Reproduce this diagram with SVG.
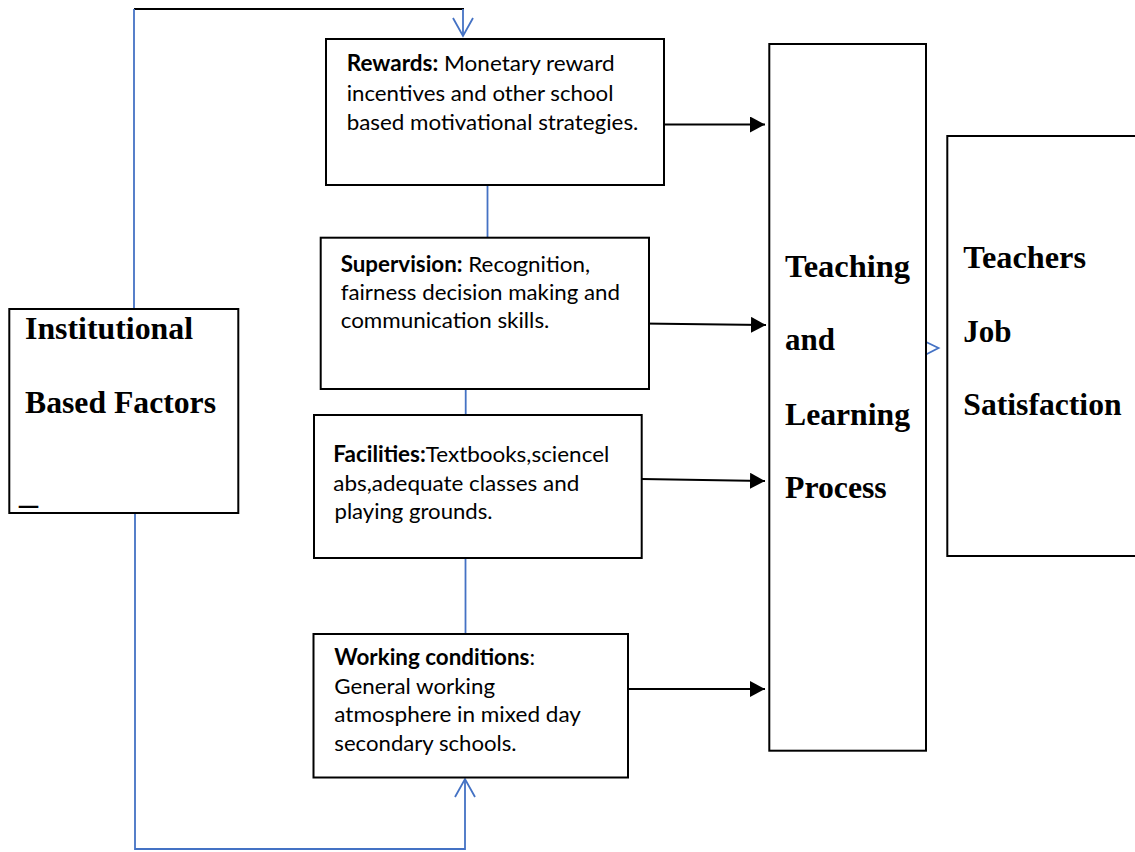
<svg xmlns="http://www.w3.org/2000/svg" width="1135" height="852" viewBox="0 0 1135 852">
<style>
.box{fill:#fff;stroke:#000;stroke-width:2}
.blue{fill:none;stroke:#4472C4;stroke-width:1.8}
.blk{fill:none;stroke:#000;stroke-width:2}
.t{font-family:Lato,"Liberation Sans",sans-serif;font-size:22px;fill:#000}
.b{font-weight:bold}
.big{font-family:"Liberation Serif","Times New Roman",serif;font-size:31px;font-weight:bold;fill:#000}
</style>
<defs>
<marker id="solid" markerUnits="userSpaceOnUse" markerWidth="16" markerHeight="16" viewBox="0 0 16 16" refX="15" refY="8" orient="auto">
<path d="M0,0 L15,8 L0,16 z" fill="#000"/>
</marker>
<marker id="open" markerUnits="userSpaceOnUse" markerWidth="24" markerHeight="24" viewBox="-20 -12 24 24" refX="0" refY="0" orient="auto" overflow="visible">
<path d="M-18,-10 L0,0 L-18,10" fill="none" stroke="#4472C4" stroke-width="1.8"/>
</marker>
</defs>
<rect width="1135" height="852" fill="#fff"/>

<g id="connectors">
<line class="blk" x1="134" y1="9" x2="464" y2="9"/>
<path class="blue" d="M463,9 L463,36" marker-end="url(#open)"/>
<line class="blue" x1="134" y1="9" x2="134" y2="309"/>
<path class="blue" d="M135,508 L135,849 L465,849 L465,779" marker-end="url(#open)"/>
<line class="blue" x1="487.5" y1="185" x2="487.5" y2="238"/>
<line class="blue" x1="465.7" y1="389" x2="465.7" y2="415"/>
<line class="blue" x1="465.5" y1="558" x2="465.5" y2="634"/>
<line class="blk" x1="664" y1="124.5" x2="765" y2="124.5" marker-end="url(#solid)"/>
<line class="blk" x1="641.7" y1="323.5" x2="766" y2="325" marker-end="url(#solid)"/>
<line class="blk" x1="641.7" y1="479" x2="765" y2="481" marker-end="url(#solid)"/>
<line class="blk" x1="628" y1="689" x2="765" y2="689" marker-end="url(#solid)"/>
<path class="blue" d="M924,341 L938.5,348 L924,355.5"/>
</g>

<g id="institutional">
<rect class="box" x="9.3" y="309" width="229" height="204"/>
<text class="big" x="25" y="339" textLength="168" lengthAdjust="spacingAndGlyphs">Institutional</text>
<text class="big" x="25" y="413" textLength="191" lengthAdjust="spacingAndGlyphs">Based Factors</text>
<text class="big" x="19" y="504" textLength="19" lengthAdjust="spacingAndGlyphs">_</text>
</g>

<g id="rewards">
<rect class="box" x="326" y="39" width="338" height="146"/>
<text class="t" x="346.7" y="71" textLength="268" lengthAdjust="spacingAndGlyphs"><tspan class="b">Rewards:</tspan> Monetary reward</text>
<text class="t" x="346.7" y="100.5" textLength="266.7" lengthAdjust="spacingAndGlyphs">incentives and other school</text>
<text class="t" x="346.7" y="130" textLength="291.7" lengthAdjust="spacingAndGlyphs">based motivational strategies.</text>
</g>

<g id="supervision">
<rect class="box" x="320.7" y="237.7" width="328.3" height="151.3"/>
<text class="t" x="340.7" y="272" textLength="249.3" lengthAdjust="spacingAndGlyphs"><tspan class="b">Supervision:</tspan> Recognition,</text>
<text class="t" x="340.7" y="300" textLength="279.3" lengthAdjust="spacingAndGlyphs">fairness decision making and</text>
<text class="t" x="340.7" y="328" textLength="208.7" lengthAdjust="spacingAndGlyphs">communication skills.</text>
</g>

<g id="facilities">
<rect class="box" x="314" y="415" width="327.7" height="143"/>
<text class="t" x="333.3" y="462" textLength="276" lengthAdjust="spacingAndGlyphs"><tspan class="b">Facilities:</tspan>Textbooks,sciencel</text>
<text class="t" x="333.3" y="491" textLength="246" lengthAdjust="spacingAndGlyphs">abs,adequate classes and</text>
<text class="t" x="334.5" y="519" textLength="158" lengthAdjust="spacingAndGlyphs">playing grounds.</text>
</g>

<g id="working">
<rect class="box" x="313.5" y="634" width="314.5" height="143.5"/>
<text class="t" x="334.3" y="665" textLength="200.7" lengthAdjust="spacingAndGlyphs"><tspan class="b">Working conditions</tspan>:</text>
<text class="t" x="334.3" y="693.5" textLength="160.7" lengthAdjust="spacingAndGlyphs">General working</text>
<text class="t" x="334.3" y="722" textLength="246.7" lengthAdjust="spacingAndGlyphs">atmosphere in mixed day</text>
<text class="t" x="334.3" y="751" textLength="182.3" lengthAdjust="spacingAndGlyphs">secondary schools.</text>
</g>

<g id="teaching">
<rect class="box" x="769.3" y="44" width="156.7" height="706.7"/>
<text class="big" x="785" y="277" textLength="125" lengthAdjust="spacingAndGlyphs">Teaching</text>
<text class="big" x="785" y="350" textLength="50" lengthAdjust="spacingAndGlyphs">and</text>
<text class="big" x="785" y="425" textLength="125" lengthAdjust="spacingAndGlyphs">Learning</text>
<text class="big" x="785" y="498" textLength="101.7" lengthAdjust="spacingAndGlyphs">Process</text>
</g>

<g id="satisfaction">
<rect class="box" x="947.3" y="136" width="200" height="420"/>
<text class="big" x="963.3" y="268" textLength="122.7" lengthAdjust="spacingAndGlyphs">Teachers</text>
<text class="big" x="963.3" y="342" textLength="48.3" lengthAdjust="spacingAndGlyphs">Job</text>
<text class="big" x="963.3" y="415" textLength="158.3" lengthAdjust="spacingAndGlyphs">Satisfaction</text>
</g>
</svg>
